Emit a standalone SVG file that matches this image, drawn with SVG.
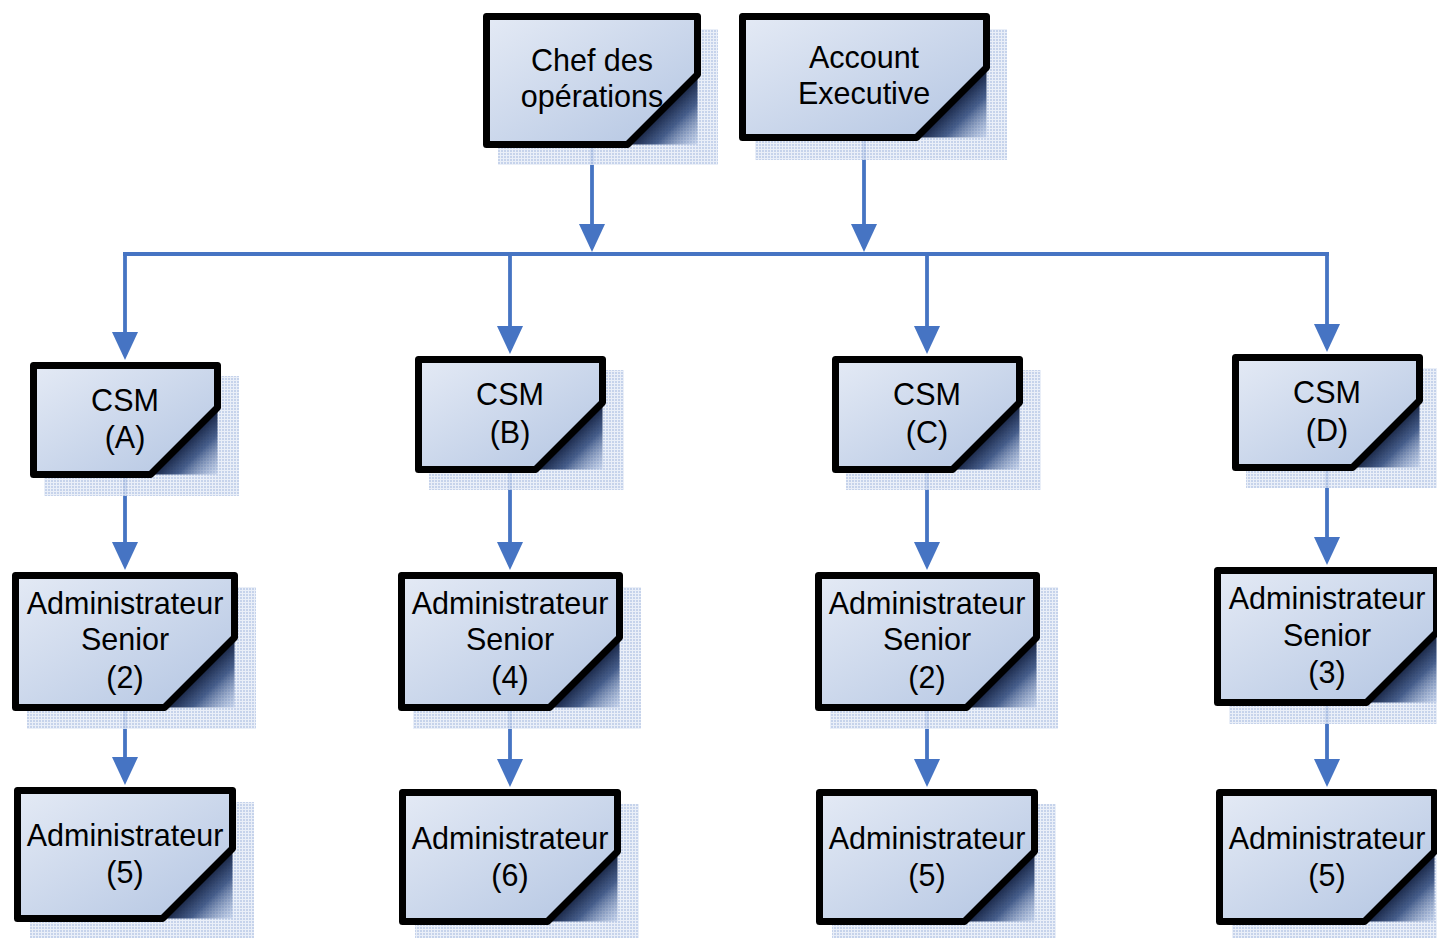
<svg xmlns="http://www.w3.org/2000/svg" width="1437" height="938" viewBox="0 0 1437 938">
<defs>
<linearGradient id="fill" x1="0" y1="0" x2="1" y2="1">
<stop offset="0" stop-color="#e4eaf5"/>
<stop offset="1" stop-color="#b3c5e2"/>
</linearGradient>
<linearGradient id="fold" x1="0" y1="0" x2="1" y2="1">
<stop offset="0.5" stop-color="#15213f"/>
<stop offset="0.7" stop-color="#2c4678" stop-opacity="0.85"/>
<stop offset="1" stop-color="#9fb5dc" stop-opacity="0.35"/>
</linearGradient>
<pattern id="dots" width="3" height="3" patternUnits="userSpaceOnUse">
<rect width="3" height="3" fill="#e6ecf7"/>
<rect width="2" height="2" fill="#bccbe7"/>
</pattern>
<marker id="arr" viewBox="0 0 28 26" refX="18" refY="13" markerWidth="28" markerHeight="26" markerUnits="userSpaceOnUse" orient="auto">
<path d="M0,0 L28,13 L0,26 Z" fill="#4674c3"/>
</marker>
</defs>
<style>
.sh{fill:url(#dots);opacity:0.85}
.box{fill:url(#fill);stroke:#000;stroke-width:7;stroke-linejoin:round}
.fold{fill:url(#fold)}
.t{font-family:"Liberation Sans",Arial,sans-serif;font-size:30.5px;fill:#000;text-anchor:middle}
.c{stroke:#4674c3;stroke-width:3.8;fill:none}
</style>

<g id="connectors">
<line class="c" x1="592" y1="148" x2="592" y2="242" marker-end="url(#arr)"/>
<line class="c" x1="864" y1="141" x2="864" y2="242" marker-end="url(#arr)"/>
<line class="c" x1="123" y1="254" x2="1329" y2="254"/>
<line class="c" x1="125" y1="254" x2="125" y2="350" marker-end="url(#arr)"/>
<line class="c" x1="510" y1="254" x2="510" y2="344" marker-end="url(#arr)"/>
<line class="c" x1="927" y1="254" x2="927" y2="344" marker-end="url(#arr)"/>
<line class="c" x1="1327" y1="254" x2="1327" y2="342" marker-end="url(#arr)"/>
<line class="c" x1="125" y1="478" x2="125" y2="560" marker-end="url(#arr)"/>
<line class="c" x1="510" y1="473" x2="510" y2="560" marker-end="url(#arr)"/>
<line class="c" x1="927" y1="473" x2="927" y2="560" marker-end="url(#arr)"/>
<line class="c" x1="1327" y1="471" x2="1327" y2="555" marker-end="url(#arr)"/>
<line class="c" x1="125" y1="711" x2="125" y2="775" marker-end="url(#arr)"/>
<line class="c" x1="510" y1="711" x2="510" y2="777" marker-end="url(#arr)"/>
<line class="c" x1="927" y1="711" x2="927" y2="777" marker-end="url(#arr)"/>
<line class="c" x1="1327" y1="706" x2="1327" y2="777" marker-end="url(#arr)"/>
</g>

<g id="chef">
<rect class="sh" x="498" y="29" width="220" height="136"/>
<path class="fold" d="M627.5,144.5 L697.5,74.5 L697.5,144.5 Z"/>
<path class="box" d="M486.5,16.5 H697.5 V74.5 L627.5,144.5 H486.5 Z"/>
<text class="t" x="592" y="71">Chef des</text>
<text class="t" x="592" y="107">opérations</text>
</g>

<g id="account">
<rect class="sh" x="755" y="29" width="252" height="131"/>
<path class="fold" d="M916.5,137.5 L986.5,67.5 L986.5,137.5 Z"/>
<path class="box" d="M742.5,16.5 H986.5 V67.5 L916.5,137.5 H742.5 Z"/>
<text class="t" x="864" y="68">Account</text>
<text class="t" x="864" y="104">Executive</text>
</g>

<g id="csmA">
<rect class="sh" x="44" y="376" width="195" height="120"/>
<path class="fold" d="M150.5,474.5 L217.5,407.5 L217.5,474.5 Z"/>
<path class="box" d="M33.5,365.5 H217.5 V407.5 L150.5,474.5 H33.5 Z"/>
<text class="t" x="125" y="411">CSM</text>
<text class="t" x="125" y="448">(A)</text>
</g>

<g id="csmB">
<rect class="sh" x="429" y="370" width="195" height="120"/>
<path class="fold" d="M535.5,469.5 L602.5,402.5 L602.5,469.5 Z"/>
<path class="box" d="M418.5,359.5 H602.5 V402.5 L535.5,469.5 H418.5 Z"/>
<text class="t" x="510" y="405">CSM</text>
<text class="t" x="510" y="443">(B)</text>
</g>

<g id="csmC">
<rect class="sh" x="846" y="370" width="195" height="120"/>
<path class="fold" d="M952.5,469.5 L1019.5,402.5 L1019.5,469.5 Z"/>
<path class="box" d="M835.5,359.5 H1019.5 V402.5 L952.5,469.5 H835.5 Z"/>
<text class="t" x="927" y="405">CSM</text>
<text class="t" x="927" y="443">(C)</text>
</g>

<g id="csmD">
<rect class="sh" x="1246" y="368" width="195" height="120"/>
<path class="fold" d="M1352.5,467.5 L1419.5,400.5 L1419.5,467.5 Z"/>
<path class="box" d="M1235.5,357.5 H1419.5 V400.5 L1352.5,467.5 H1235.5 Z"/>
<text class="t" x="1327" y="403">CSM</text>
<text class="t" x="1327" y="441">(D)</text>
</g>

<g id="seniorA">
<rect class="sh" x="27" y="587" width="229" height="142"/>
<path class="fold" d="M164.5,707.5 L234.5,637.5 L234.5,707.5 Z"/>
<path class="box" d="M15.5,575.5 H234.5 V637.5 L164.5,707.5 H15.5 Z"/>
<text class="t" x="125" y="614">Administrateur</text>
<text class="t" x="125" y="650">Senior</text>
<text class="t" x="125" y="688">(2)</text>
</g>

<g id="seniorB">
<rect class="sh" x="413" y="587" width="228" height="142"/>
<path class="fold" d="M549.5,707.5 L619.5,637.5 L619.5,707.5 Z"/>
<path class="box" d="M401.5,575.5 H619.5 V637.5 L549.5,707.5 H401.5 Z"/>
<text class="t" x="510" y="614">Administrateur</text>
<text class="t" x="510" y="650">Senior</text>
<text class="t" x="510" y="688">(4)</text>
</g>

<g id="seniorC">
<rect class="sh" x="830" y="587" width="228" height="142"/>
<path class="fold" d="M966.5,707.5 L1036.5,637.5 L1036.5,707.5 Z"/>
<path class="box" d="M818.5,575.5 H1036.5 V637.5 L966.5,707.5 H818.5 Z"/>
<text class="t" x="927" y="614">Administrateur</text>
<text class="t" x="927" y="650">Senior</text>
<text class="t" x="927" y="688">(2)</text>
</g>

<g id="seniorD">
<rect class="sh" x="1229" y="582" width="228" height="142"/>
<path class="fold" d="M1366.5,702.5 L1436.5,632.5 L1436.5,702.5 Z"/>
<path class="box" d="M1217.5,570.5 H1436.5 V632.5 L1366.5,702.5 H1217.5 Z"/>
<text class="t" x="1327" y="609">Administrateur</text>
<text class="t" x="1327" y="646">Senior</text>
<text class="t" x="1327" y="683">(3)</text>
</g>

<g id="adminA">
<rect class="sh" x="30" y="802" width="224" height="137"/>
<path class="fold" d="M162.5,918.5 L232.5,848.5 L232.5,918.5 Z"/>
<path class="box" d="M17.5,790.5 H232.5 V848.5 L162.5,918.5 H17.5 Z"/>
<text class="t" x="125" y="846">Administrateur</text>
<text class="t" x="125" y="883">(5)</text>
</g>

<g id="adminB">
<rect class="sh" x="415" y="804" width="224" height="137"/>
<path class="fold" d="M547.5,921.5 L617.5,851.5 L617.5,921.5 Z"/>
<path class="box" d="M402.5,792.5 H617.5 V851.5 L547.5,921.5 H402.5 Z"/>
<text class="t" x="510" y="849">Administrateur</text>
<text class="t" x="510" y="886">(6)</text>
</g>

<g id="adminC">
<rect class="sh" x="832" y="804" width="224" height="137"/>
<path class="fold" d="M964.5,921.5 L1034.5,851.5 L1034.5,921.5 Z"/>
<path class="box" d="M819.5,792.5 H1034.5 V851.5 L964.5,921.5 H819.5 Z"/>
<text class="t" x="927" y="849">Administrateur</text>
<text class="t" x="927" y="886">(5)</text>
</g>

<g id="adminD">
<rect class="sh" x="1232" y="804" width="224" height="137"/>
<path class="fold" d="M1364.5,921.5 L1434.5,851.5 L1434.5,921.5 Z"/>
<path class="box" d="M1219.5,792.5 H1434.5 V851.5 L1364.5,921.5 H1219.5 Z"/>
<text class="t" x="1327" y="849">Administrateur</text>
<text class="t" x="1327" y="886">(5)</text>
</g>
</svg>
